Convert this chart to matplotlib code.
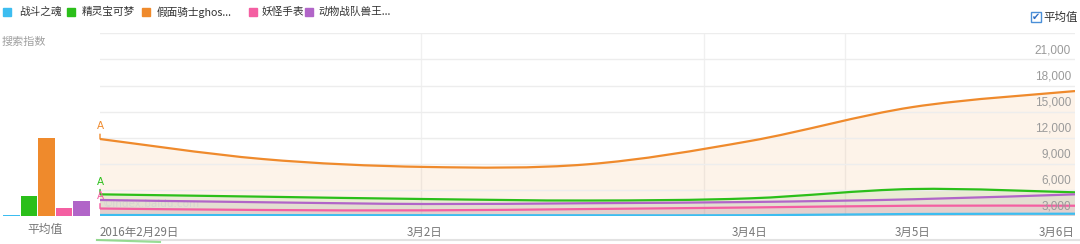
import numpy as np
import matplotlib.pyplot as plt
import matplotlib.transforms as mtransforms
from matplotlib.path import Path
from matplotlib.patches import PathPatch, Rectangle
from matplotlib.lines import Line2D

plt.rcParams['font.family'] = ['Noto Sans CJK SC', 'DejaVu Sans']

# data
days = ['2016年2月29日', '3月1日', '3月2日', '3月3日', '3月4日', '3月5日', '3月6日']
names = ['战斗之魂', '精灵宝可梦', '假面骑士ghos...', '妖怪手表', '动物战队兽王...']
colors = ['#3dbdf0', '#2bbf1a', '#ef8a2c', '#f45fa2', '#b165c8']

zhandou = [115, 100, 90, 85, 90, 230, 260]
baokemeng = [2490, 2220, 1950, 1780, 2030, 3100, 2720]
jiamian = [8850, 6550, 5640, 5940, 8620, 12520, 14360]
yaoguai = [860, 690, 650, 800, 980, 1180, 1180]
dongwu = [1840, 1580, 1380, 1470, 1610, 1920, 2490]

series = [zhandou, baokemeng, jiamian, yaoguai, dongwu]
marked = [1, 2, 3]          # series with an "A" event marker
shown_ticks = [0, 2, 4, 5, 6]
yticks = [3000, 6000, 9000, 12000, 15000, 18000, 21000]


def smooth_path(x, y, close=False):
    x = np.asarray(x, float)
    y = np.asarray(y, float)
    n = len(x)
    verts = [(x[0], y[0])]
    codes = [Path.MOVETO]
    for i in range(n - 1):
        xa, ya = (x[i - 1], y[i - 1]) if i > 0 else (x[i], y[i])
        xb, yb = (x[i + 2], y[i + 2]) if i + 2 < n else (x[i + 1], y[i + 1])
        c1 = (x[i] + (x[i + 1] - xa) / 6, y[i] + (y[i + 1] - ya) / 6)
        c2 = (x[i + 1] - (xb - x[i]) / 6, y[i + 1] - (yb - y[i]) / 6)
        verts += [c1, c2, (x[i + 1], y[i + 1])]
        codes += [Path.CURVE4] * 3
    if close:
        verts += [(x[-1], 0), (x[0], 0), (x[0], y[0])]
        codes += [Path.LINETO, Path.LINETO, Path.CLOSEPOLY]
    return Path(verts, codes)


W, H = 1080, 244
fig = plt.figure(figsize=(W / 100, H / 100), dpi=100)

bottom = 28 / H
height = (216 - 33.3) / H
ax = fig.add_axes([100 / W, bottom, 975 / W, height])
ax.set_xlim(0, len(days) - 1)
ax.set_ylim(0, 21000)
for s in ax.spines.values():
    s.set_visible(False)

ax.set_yticks([0] + yticks)
ax.grid(axis='y', color='#ededed', lw=1, zorder=0)
ax.tick_params(left=False, labelleft=False, bottom=False, pad=3.5,
               labelsize=8.3, labelcolor='#777777')
for xv in [1.975, 3.717, 4.585]:
    ax.axvline(xv, color='#f0f0f0', lw=1, zorder=0)

ax.set_xticks(shown_ticks, [days[i] for i in shown_ticks])
labs = ax.get_xticklabels()
labs[0].set_ha('left')
labs[-1].set_ha('right')

x = np.arange(len(days))
for vals, c in zip(series, colors):
    ax.add_patch(PathPatch(smooth_path(x, vals, close=True), facecolor=c,
                           edgecolor='none', alpha=0.1, zorder=1))
for vals, c in zip(series, colors):
    ax.add_patch(PathPatch(smooth_path(x, vals), facecolor='none',
                           edgecolor=c, lw=1.6, zorder=3))

for i in marked:
    ax.annotate('A', xy=(0, series[i][0]), xytext=(0, 5.5),
                textcoords='offset points', ha='center', va='bottom',
                fontsize=7.5, color=colors[i], family='DejaVu Sans',
                annotation_clip=False, zorder=4,
                arrowprops=dict(arrowstyle='-', color=colors[i], lw=1,
                                shrinkA=0, shrinkB=0))

ax.text(0.003, 0.04, '©index.baidu.com', transform=ax.transAxes,
        fontsize=7.5, color='#d0d0d0', alpha=0.7, family='DejaVu Sans',
        va='bottom', zorder=2)

ylab_tr = (mtransforms.blended_transform_factory(ax.transAxes, ax.transData)
           + mtransforms.ScaledTranslation(-0.04, -0.11, fig.dpi_scale_trans))
for v in yticks:
    ax.text(1, v, f'{v:,}', transform=ylab_tr, ha='right', va='top',
            fontsize=8.5, color='#9a9a9a', family='Liberation Sans', zorder=5)

# average bars on the left
bax = fig.add_axes([3 / W, bottom, 87 / W, height])
means = [np.mean(v) for v in series]
bax.bar(range(len(series)), means, width=0.95, color=colors)
bax.set_xlim(-0.5, len(series) - 0.5)
bax.set_ylim(0, 21000)
bax.axis('off')
fig.text(45 / W, 1 - 229 / H, '平均值', ha='center', va='center',
         fontsize=8.5, color='#777777')

# header
fig.text(2 / W, 1 - 42 / H, '搜索指数', ha='left', va='center',
         fontsize=8, color='#a0a0a0')
sq_x = [3, 67, 142, 249, 305]
tx_x = [19, 82, 157, 262, 318]
for name, c, sx, tx in zip(names, colors, sq_x, tx_x):
    fig.add_artist(Rectangle((sx / W, 1 - 16 / H), 8 / W, 8 / H,
                             transform=fig.transFigure, color=c))
    fig.text(tx / W, 1 - 12 / H, name, ha='left', va='center',
             fontsize=7.7, color='#333333')

fig.add_artist(Rectangle((1031 / W, 1 - 22 / H), 10 / W, 10 / H,
                         transform=fig.transFigure, facecolor='white',
                         edgecolor='#4a8fd8', lw=1))
fig.text(1036 / W, 1 - 17 / H, '✔', ha='center', va='center', fontsize=7,
         color='#2f6fc4', family='DejaVu Sans')
fig.text(1043 / W, 1 - 17 / H, '平均值', ha='left', va='center',
         fontsize=8.3, color='#333333')

# overview strip at the bottom edge
fig.add_artist(Line2D([97 / W, 1], [1 - 240 / H] * 2, color='#e2e2e2', lw=1.5))
fig.add_artist(Line2D([97 / W, 160 / W], [1 - 240 / H, 1 - 242 / H],
                      color='#7fd67a', lw=1.5, alpha=0.8))

fig.savefig('out.png', dpi=100)
